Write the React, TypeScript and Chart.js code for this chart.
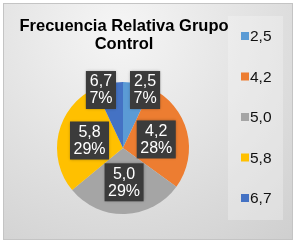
import React, { useEffect, useRef } from "react";
import { Chart, registerables } from "chart.js";

Chart.register(...registerables);

const categories = ["2,5", "4,2", "5,0", "5,8", "6,7"];
const percentages = [7, 28, 29, 29, 7];
const sliceColors = ["#5B9BD5", "#ED7D31", "#A5A5A5", "#FFC000", "#4472C4"];
const titleLines = ["Frecuencia Relativa Grupo", "Control"];

const FONT = "'Liberation Sans', Arial, sans-serif";

const decorPlugin = {
  id: "decor",
  beforeDraw(chart: any) {
    const { ctx, width, height } = chart;
    ctx.save();
    ctx.fillStyle = "#ffffff";
    ctx.fillRect(0, 0, width, height);
    const g = ctx.createRadialGradient(120, 30, 10, 120, 30, 300);
    g.addColorStop(0, "#f4f4f4");
    g.addColorStop(1, "#cbcbcb");
    ctx.fillStyle = g;
    ctx.fillRect(3, 3, width - 7, height - 7);
    ctx.strokeStyle = "#c4c4c4";
    ctx.lineWidth = 1;
    ctx.strokeRect(3.5, 3.5, width - 8, height - 8);
    // legend panel
    ctx.fillStyle = "rgba(245,245,245,0.35)";
    ctx.fillRect(228, 16, 55, 204);
    // title
    ctx.fillStyle = "#000000";
    ctx.font = `bold 16.5px ${FONT}`;
    ctx.textAlign = "center";
    ctx.textBaseline = "middle";
    titleLines.forEach((t, i) => ctx.fillText(t, 124, 26 + i * 18));
    // legend
    ctx.font = `15.5px ${FONT}`;
    ctx.textAlign = "left";
    categories.forEach((c, i) => {
      const y = 36 + i * 40.5;
      ctx.fillStyle = sliceColors[i];
      ctx.fillRect(241, y - 4, 8, 8);
      ctx.fillStyle = "#111111";
      ctx.fillText(c, 250, y + 1);
    });
    ctx.restore();
  },
  afterDatasetsDraw(chart: any) {
    const { ctx } = chart;
    const meta = chart.getDatasetMeta(0);
    const total = percentages.reduce((a, b) => a + b, 0);
    ctx.save();
    ctx.font = `16px ${FONT}`;
    const boxes: any[] = [];
    meta.data.forEach((arc: any, i: number) => {
      const p = arc.getProps(["x", "y", "startAngle", "endAngle", "outerRadius"], true);
      const mid = (p.startAngle + p.endAngle) / 2;
      const share = percentages[i] / total;
      const frac = share < 0.1 ? 0.9 : 0.52;
      const cx = p.x + Math.cos(mid) * p.outerRadius * frac;
      const cy = p.y + Math.sin(mid) * p.outerRadius * frac;
      const lines = [categories[i], `${Math.round(share * 100)}%`];
      const w = Math.max(...lines.map((l) => ctx.measureText(l).width)) + 7;
      const h = 38;
      boxes.push({ cx, cy, w, h, lines });
    });
    // resolve overlaps horizontally
    const gap = 14;
    for (let iter = 0; iter < 10; iter++) {
      for (let a = 0; a < boxes.length; a++) {
        for (let b = a + 1; b < boxes.length; b++) {
          const A = boxes[a], B = boxes[b];
          const ox = (A.w + B.w) / 2 + gap - Math.abs(A.cx - B.cx);
          const oy = (A.h + B.h) / 2 - Math.abs(A.cy - B.cy);
          if (ox > 0 && oy > 0) {
            const s = A.cx <= B.cx ? -1 : 1;
            A.cx += (s * ox) / 2;
            B.cx -= (s * ox) / 2;
          }
        }
      }
    }
    boxes.forEach((b) => {
      ctx.shadowColor = "rgba(0,0,0,0.35)";
      ctx.shadowBlur = 3;
      ctx.fillStyle = "#3b3b3b";
      ctx.fillRect(b.cx - b.w / 2, b.cy - b.h / 2, b.w, b.h);
      ctx.shadowColor = "transparent";
      ctx.shadowBlur = 0;
      ctx.fillStyle = "#ffffff";
      ctx.textAlign = "center";
      ctx.textBaseline = "middle";
      b.lines.forEach((l: string, k: number) => ctx.fillText(l, b.cx, b.cy - 8 + k * 17));
    });
    ctx.restore();
  },
};

export default function App() {
  const ref = useRef<HTMLCanvasElement>(null);
  useEffect(() => {
    document.body.style.margin = "0";
    const chart = new Chart(ref.current as HTMLCanvasElement, {
      type: "pie",
      data: {
        labels: categories,
        datasets: [
          {
            data: percentages,
            backgroundColor: sliceColors,
            borderWidth: 0,
          },
        ],
      },
      options: {
        responsive: false,
        animation: false,
        layout: { padding: { left: 57, right: 108, top: 82, bottom: 30 } },
        plugins: {
          legend: { display: false },
          title: { display: false },
          tooltip: { enabled: false },
        },
      },
      plugins: [decorPlugin],
    });
    return () => chart.destroy();
  }, []);
  return (
    <div style={{ width: 297, height: 244 }}>
      <canvas ref={ref} width={297} height={244} style={{ display: "block" }} />
    </div>
  );
}
